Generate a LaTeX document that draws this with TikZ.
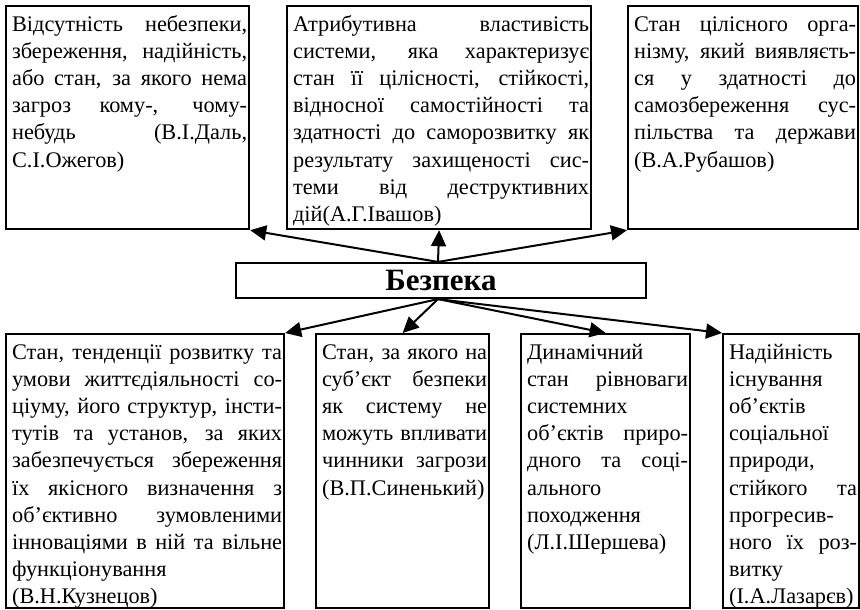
\documentclass[tikz,border=0pt]{standalone}
\usepackage{fontspec}
\setmainfont{Liberation Serif}
\usetikzlibrary{arrows.meta}
\newcommand{\deftext}[3]{\kern6pt\parbox[t][#2][t]{#1}{\fontsize{22.3}{27.2}\selectfont
  \tolerance=10000 \hbadness=10000 \hyphenpenalty=10000 \exhyphenpenalty=10000
  \noindent\strut #3}\kern2pt}

\begin{document}
\begin{tikzpicture}[x=1pt,y=-1pt,
  defbox/.style={draw,line width=2.2pt,anchor=north west,inner xsep=0pt,inner ysep=6pt},
  arr/.style={line width=2pt,-{Triangle[length=16pt,width=15pt]}}]
\useasboundingbox (0,0) rectangle (860,610);
\node[defbox] (dal) at (5,5) {\deftext{235pt}{211pt}{Відсутність небезпеки,\linebreak збереження, надійність,\linebreak або стан, за якого нема\linebreak загроз кому-, чому-\linebreak небудь (В.І.Даль,\linebreak С.І.Ожегов)}};
\node[defbox] (ivashov) at (286,5) {\deftext{296pt}{211pt}{Атрибутивна властивість\linebreak системи, яка характеризує\linebreak стан її цілісності, стійкості,\linebreak відносної самостійності та\linebreak здатності до саморозвитку як\linebreak результату захищеності сис-\linebreak теми від деструктивних\linebreak дій(А.Г.Івашов)}};
\node[defbox] (rubashov) at (627,5) {\deftext{222pt}{211pt}{Стан цілісного орга-\linebreak нізму, який виявляєть-\linebreak ся у здатності до\linebreak самозбереження сус-\linebreak пільства та держави\linebreak (В.А.Рубашов)}};
\node[draw,line width=2.2pt,minimum width=410pt,minimum height=35pt,font=\fontsize{31}{34}\selectfont\bfseries] (bezpeka) at (441,280.5) {Безпека};
\node[defbox] (kuznetsov) at (5,333) {\deftext{270pt}{262pt}{Стан, тенденції розвитку та\linebreak умови життєдіяльності со-\linebreak ціуму, його структур, інсти-\linebreak тутів та установ, за яких\linebreak забезпечується збереження\linebreak їх якісного визначення з\linebreak об’єктивно зумовленими\linebreak інноваціями в ній та вільне\linebreak функціонування\linebreak (В.Н.Кузнецов)}};
\node[defbox] (synenkyi) at (315,333) {\deftext{165pt}{262pt}{Стан, за якого на\linebreak суб’єкт безпеки\linebreak як систему не\linebreak можуть впливати\linebreak чинники загрози\linebreak (В.П.Синенький)}};
\node[defbox] (shersheva) at (520,333) {\deftext{161pt}{262pt}{Динамічний\linebreak стан рівноваги\linebreak системних\linebreak об’єктів приро-\linebreak дного та соці-\linebreak ального\linebreak походження\linebreak (Л.І.Шершева)}};
\node[defbox] (lazarev) at (722,333) {\deftext{128pt}{262pt}{Надійність\linebreak існування\linebreak об’єктів\linebreak соціальної\linebreak природи,\linebreak стійкого та\linebreak прогресив-\linebreak ного їх роз-\linebreak витку\linebreak (І.А.Лазарєв)}};
\coordinate (up) at ([xshift=-3pt]bezpeka.north);
\coordinate (down) at ([xshift=-3pt]bezpeka.south);
\draw[arr] (up) -- (dal.south east);
\draw[arr] (up) -- (ivashov.south);
\draw[arr] (up) -- (rubashov.south west);
\draw[arr] (down) -- (kuznetsov.north east);
\draw[arr] (down) -- (synenkyi.north);
\draw[arr] (down) -- (shersheva.north);
\draw[arr] (down) -- (lazarev.north west);
\end{tikzpicture}
\end{document}
